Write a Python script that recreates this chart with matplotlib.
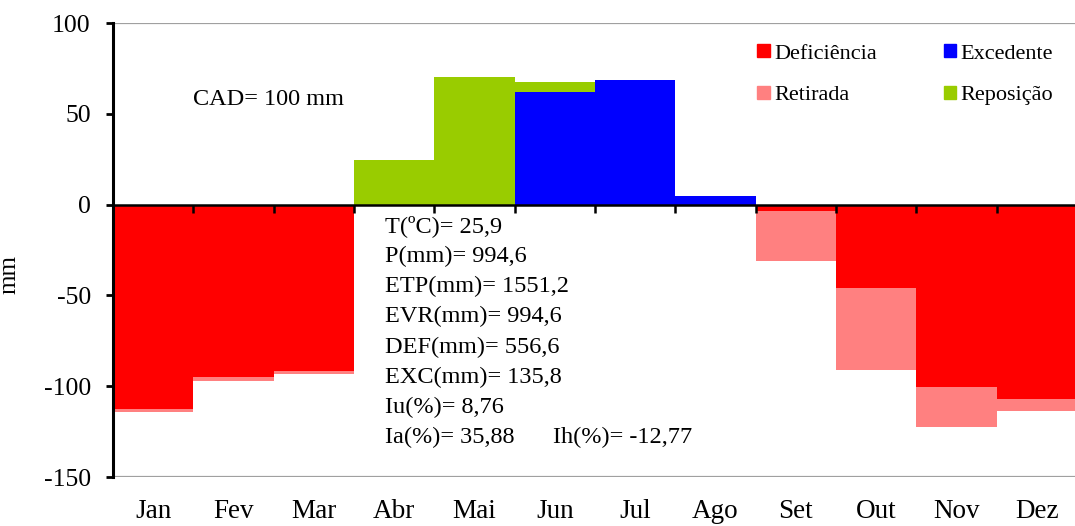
import matplotlib
matplotlib.use("Agg")
import matplotlib.pyplot as plt
from matplotlib.patches import Rectangle
from matplotlib.transforms import blended_transform_factory

plt.rcParams['font.family'] = ['Liberation Serif', 'DejaVu Serif']
plt.rcParams['axes.unicode_minus'] = False

# ===== Data (mm) =====
months = ['Jan', 'Fev', 'Mar', 'Abr', 'Mai', 'Jun', 'Jul', 'Ago', 'Set', 'Out', 'Nov', 'Dez']
deficiencia = [-112.5, -95.2, -91.9, 0, 0, 0, 0, 0, -3.7, -46.0, -100.3, -107.0]
retirada = [-1.5, -1.7, -1.5, 0, 0, 0, 0, 0, -27.2, -45.2, -22.0, -6.4]
excedente = [0, 0, 0, 0, 0, 62.2, 68.8, 4.8, 0, 0, 0, 0]
reposicao = [0, 0, 0, 24.8, 70.4, 5.5, 0, 0, 0, 0, 0, 0]

cad_text = 'CAD= 100 mm'
stats_lines = ['T(ºC)= 25,9', 'P(mm)= 994,6', 'ETP(mm)= 1551,2', 'EVR(mm)= 994,6',
               'DEF(mm)= 556,6', 'EXC(mm)= 135,8', 'Iu(%)= 8,76', 'Ia(%)= 35,88']
ih_text = 'Ih(%)= -12,77'

c_def = '#FF0000'
c_ret = '#FF8080'
c_exc = '#0000FF'
c_rep = '#99CC00'

fig = plt.figure(figsize=(10.75, 5.26), dpi=100)
ax = fig.add_axes([113 / 1075, 1 - 477 / 526, 964 / 1075, 454 / 526])

x = list(range(len(months)))
ax.bar(x, deficiencia, width=1, align='edge', color=c_def, linewidth=0)
ax.bar(x, retirada, width=1, align='edge', bottom=deficiencia, color=c_ret, linewidth=0)
ax.bar(x, excedente, width=1, align='edge', color=c_exc, linewidth=0)
ax.bar(x, reposicao, width=1, align='edge', bottom=excedente, color=c_rep, linewidth=0)

ax.set_xlim(0, len(months))
ax.set_ylim(-150, 100)

# spines: left black, x axis on zero line, gray lines at top/bottom
for s in ['top', 'right']:
    ax.spines[s].set_visible(False)
ax.spines['left'].set_linewidth(2.2)
ax.spines['bottom'].set_position(('data', 0))
ax.spines['bottom'].set_linewidth(1.8)
ax.spines['bottom'].set_zorder(5)
ax.axhline(100, color='#a0a0a0', lw=1.6, zorder=0)
ax.axhline(-150, color='#a0a0a0', lw=1.6, zorder=0)

ax.set_yticks([100, 50, 0, -50, -100, -150])
ax.tick_params(axis='y', direction='out', length=5, width=2, pad=11, labelsize=18.5)
ax.set_xticks(range(1, len(months)))
ax.set_xticklabels([])
ax.tick_params(axis='x', direction='out', length=6, width=1.8)

# month labels under the plot
trans = blended_transform_factory(ax.transData, ax.transAxes)
for i, m in enumerate(months):
    ax.text(i + 0.5, -0.077, m, transform=trans, ha='center', va='center', fontsize=19.5)

ax.set_ylabel('mm', fontsize=18)
ax.yaxis.set_label_coords(-0.0965, 0.445)

# annotations
ax.text(1.0, 58, cad_text, ha='left', va='center', fontsize=17.5)
for i, line in enumerate(stats_lines):
    ax.text(3.39, -12 - i * 16.6, line, ha='left', va='center', fontsize=17.5)
ax.text(5.48, -12 - (len(stats_lines) - 1) * 16.6, ih_text, ha='left', va='center', fontsize=17.5)

handles = [Rectangle((0, 0), 1, 1, color=c) for c in [c_def, c_ret, c_exc, c_rep]]
labels = ['Deficiência', 'Retirada', 'Excedente', 'Reposição']
ax.legend(handles, labels, ncol=2, loc='upper left', bbox_to_anchor=(0.657, 0.978),
          frameon=False, fontsize=16, borderpad=0, handlelength=0.55, handleheight=0.55,
          handletextpad=0.2, labelspacing=1.0, columnspacing=3.0)

fig.savefig('out.png', dpi=100)
